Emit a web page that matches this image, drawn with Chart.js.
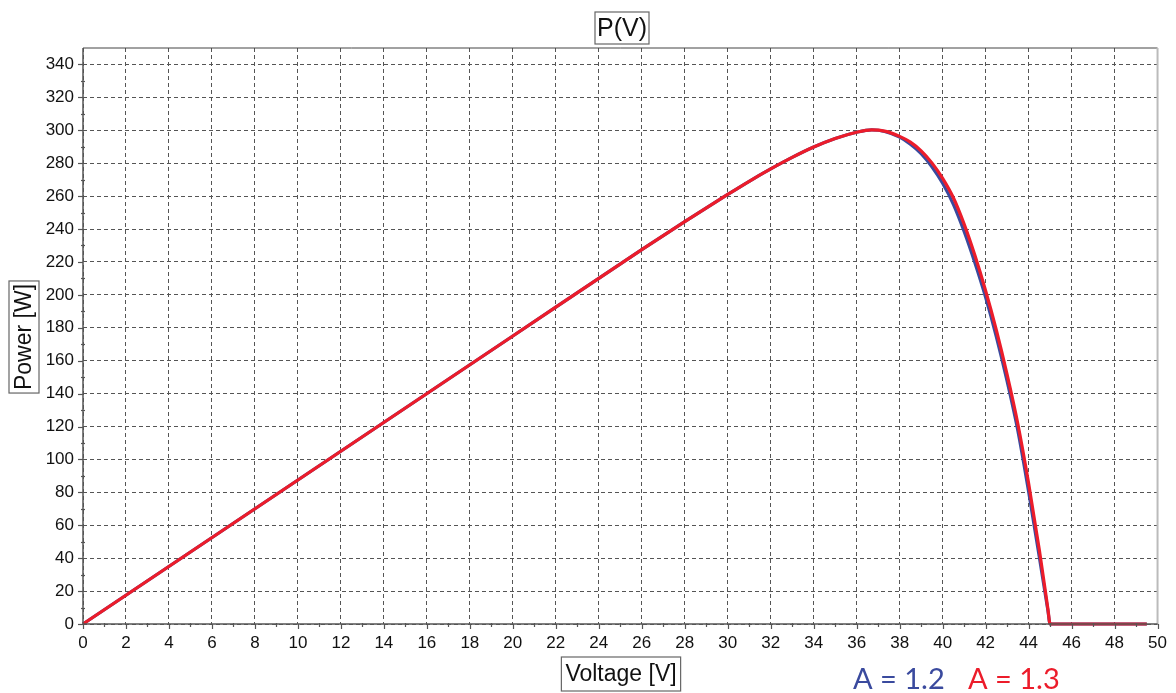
<!DOCTYPE html>
<html>
<head>
<meta charset="utf-8">
<script src="https://cdn.jsdelivr.net/npm/chart.js@4.4.0/dist/chart.umd.min.js"></script>
<style>
  html, body { margin: 0; padding: 0; background: #fff; }
  #wrap { width: 1176px; height: 693px; position: relative; }
</style>
</head>
<body>
<div id="wrap"><canvas id="pv"></canvas></div>
<script>
// voltage grid [V] and power [W]
const voltage = [0, 10, 20, 26, 28, 30, 31, 32, 33, 34, 35, 36, 36.7, 37.3, 38, 38.5, 39, 39.5, 40, 40.5, 41, 41.5, 42, 42.5, 43, 43.5, 44, 44.5, 44.9, 45, 49.5];
const powerA13 = [0, 87.5, 175, 227.5, 244.5, 261, 269, 276.5, 283.5, 289.8, 295, 298.8, 300.2, 299.5, 296.3, 292.8, 287.5, 280.2, 270.8, 259, 243, 224, 202.5, 178.5, 151.5, 121.5, 85.5, 45, 9, 0, 0];
const powerA12 = [0, 87.5, 175, 227.5, 244.5, 261, 269, 276.5, 283.5, 289.8, 295, 298.8, 300.2, 299.3, 295.8, 291.5, 285.8, 277.8, 267.8, 255, 238.5, 219.5, 198.5, 174.5, 147.5, 117.5, 80.5, 40.5, 8, 0, 0];

const xMin = 0, xMax = 50, xStep = 2, xMinor = 1;
const yMin = 0, yMax = 350, yStep = 20, yMinor = 10, yLastTick = 340;

const seriesLabels = ['A = 1.3', 'A = 1.2'];
const RED = '#ec1c2a';
const BLUE = '#3a4a9e';

const pts = (ys) => voltage.map((v, i) => ({ x: v, y: ys[i] }));

// frame, minor ticks, boxed titles and the coloured A labels
const decor = {
  id: 'decor',
  afterDraw(chart) {
    const { ctx, chartArea: a } = chart;
    const xs = chart.scales.x, ys = chart.scales.y;
    ctx.save();

    // frame
    ctx.setLineDash([]);
    ctx.lineWidth = 1;
    ctx.strokeStyle = '#444';
    ctx.beginPath(); ctx.moveTo(a.left, a.top); ctx.lineTo(a.right, a.top); ctx.stroke();
    ctx.lineWidth = 2;
    ctx.strokeStyle = '#bbb';
    ctx.beginPath(); ctx.moveTo(a.right, a.top); ctx.lineTo(a.right, a.bottom); ctx.stroke();
    ctx.lineWidth = 1.5;
    ctx.strokeStyle = '#555';
    ctx.beginPath(); ctx.moveTo(a.left, a.top); ctx.lineTo(a.left, a.bottom); ctx.lineTo(a.right, a.bottom); ctx.stroke();

    // tick marks
    ctx.lineWidth = 1.2;
    ctx.strokeStyle = '#555';
    for (let v = xMin; v <= xMax; v += xMinor) {
      const px = Math.round(xs.getPixelForValue(v)) + 0.5;
      const major = v % xStep === 0;
      ctx.beginPath(); ctx.moveTo(px, a.bottom - (major ? 0 : 1)); ctx.lineTo(px, a.bottom + (major ? 5 : 3)); ctx.stroke();
    }
    for (let v = yMin; v <= yLastTick; v += yMinor) {
      const py = Math.round(ys.getPixelForValue(v)) + 0.5;
      const major = v % yStep === 0;
      ctx.beginPath(); ctx.moveTo(a.left + (major ? 0 : 2), py); ctx.lineTo(a.left - (major ? 5 : 2), py); ctx.stroke();
    }

    const boxed = (text, cx, cy, font, rot, padX, padY) => {
      ctx.save();
      ctx.translate(cx, cy);
      ctx.rotate(rot);
      ctx.font = font;
      ctx.fillStyle = '#111';
      ctx.textAlign = 'center';
      ctx.textBaseline = 'middle';
      ctx.fillText(text, 0, 1);
      const w = ctx.measureText(text).width + padX * 2;
      const h = padY * 2;
      ctx.strokeStyle = '#666';
      ctx.lineWidth = 1.2;
      ctx.strokeRect(-w / 2, -h / 2, w, h);
      ctx.restore();
    };
    boxed('P(V)', 622, 28, '25px "Liberation Sans"', 0, 2, 16);
    boxed('Voltage [V]', 621, 674, '23px "Liberation Sans"', 0, 4, 17);
    boxed('Power [W]', 24, 337, '23px "Liberation Sans"', -Math.PI / 2, 3, 15);

    // series labels
    ctx.font = '29px Lato';
    ctx.textAlign = 'left';
    ctx.textBaseline = 'alphabetic';
    ctx.fillStyle = BLUE;
    ctx.fillText(seriesLabels[1], 853, 689);
    ctx.fillStyle = RED;
    ctx.fillText(seriesLabels[0], 968, 689);
    ctx.restore();
  }
};

const tickList = (lo, hi, step) => {
  const out = [];
  for (let v = lo; v <= hi; v += step) out.push({ value: v });
  return out;
};

new Chart(document.getElementById('pv'), {
  type: 'line',
  data: {
    datasets: [
      { label: seriesLabels[0], data: pts(powerA13), borderColor: RED, borderWidth: 3.2, pointRadius: 0, cubicInterpolationMode: 'monotone', clip: false },
      { label: seriesLabels[1], data: pts(powerA12), borderColor: BLUE, borderWidth: 3.2, pointRadius: 0, cubicInterpolationMode: 'monotone', clip: false }
    ]
  },
  options: {
    responsive: true,
    maintainAspectRatio: false,
    animation: false,
    events: [],
    layout: { padding: { top: 48, right: 16, left: 0, bottom: 0 } },
    plugins: { legend: { display: false }, title: { display: false }, tooltip: { enabled: false } },
    scales: {
      x: {
        type: 'linear',
        min: xMin,
        max: xMax,
        afterFit: (s) => { s.height = 69; },
        afterBuildTicks: (s) => { s.ticks = tickList(xMin, xMax, xStep); },
        ticks: { stepSize: xStep, padding: 9, color: '#111', font: { family: 'Liberation Sans', size: 17 }, maxRotation: 0, autoSkip: false },
        grid: { color: '#555', lineWidth: 1, drawTicks: false },
        border: { display: false, dash: [4, 3] }
      },
      y: {
        type: 'linear',
        min: yMin,
        max: yMax,
        afterFit: (s) => { s.width = 83; },
        afterBuildTicks: (s) => { s.ticks = tickList(yMin, yLastTick, yStep); },
        ticks: { stepSize: yStep, padding: 9, color: '#111', font: { family: 'Liberation Sans', size: 17 }, autoSkip: false },
        grid: { color: '#555', lineWidth: 1, drawTicks: false },
        border: { display: false, dash: [4, 3] }
      }
    }
  },
  plugins: [decor]
});
</script>
</body>
</html>
